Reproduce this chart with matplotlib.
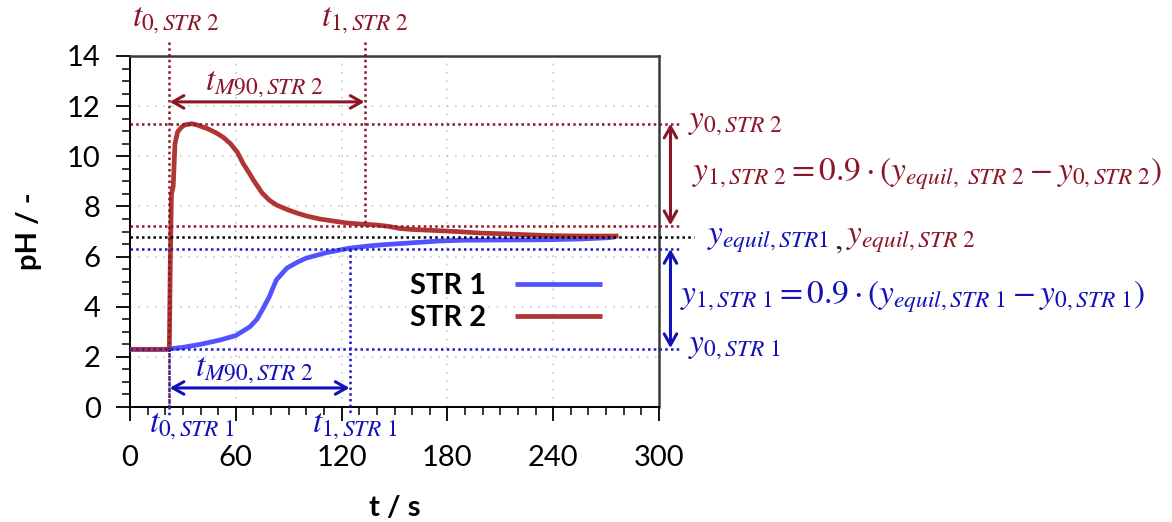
import matplotlib
matplotlib.use("Agg")
import matplotlib.pyplot as plt
from matplotlib.ticker import MultipleLocator
import logging
logging.getLogger("matplotlib.font_manager").setLevel(logging.ERROR)

# ---------------- data ----------------
t_str1 = [0, 20, 22.5, 30, 40, 51, 60, 68, 72, 75, 79, 83, 89, 95, 100, 111, 124, 135, 145,
          160, 175, 188, 210, 236, 255, 271, 275]
ph_str1 = [2.3, 2.3, 2.32, 2.38, 2.5, 2.67, 2.85, 3.2, 3.5, 3.87, 4.4, 5.07, 5.54, 5.78, 5.94,
           6.15, 6.33, 6.42, 6.48, 6.55, 6.62, 6.65, 6.66, 6.67, 6.7, 6.75, 6.78]

t_str2 = [0, 22.3, 22.8, 23.5, 24.5, 25.5, 27, 29, 31, 35, 38, 44, 49, 53, 57, 61, 64, 67, 70,
          75, 79, 83, 89, 94.5, 100, 107.5, 115, 123, 132, 140, 147, 153, 160, 170, 185, 198,
          215, 236, 255, 277]
ph_str2 = [2.3, 2.3, 5.5, 8.5, 8.8, 10.5, 10.97, 11.15, 11.25, 11.3, 11.25, 11.1, 10.93, 10.75,
           10.5, 10.15, 9.73, 9.4, 9.05, 8.53, 8.25, 8.06, 7.88, 7.74, 7.62, 7.5, 7.42, 7.34,
           7.29, 7.26, 7.2, 7.12, 7.08, 7.05, 7.0, 6.94, 6.9, 6.84, 6.82, 6.82]

series_labels = ["STR 1", "STR 2"]
x_ticks = [0, 60, 120, 180, 240, 300]
y_ticks = [0, 2, 4, 6, 8, 10, 12, 14]

t0_str2, t1_str2 = 22, 133
t0_str1, t1_str1 = 22, 124.5
y0_str2, y1_str2 = 11.3, 7.2
y_equil = 6.8
y1_str1, y0_str1 = 6.3, 2.3

# ---------------- style ----------------
RED = "#8C1628"
BLUE = "#1212B8"
BLUE_DOT = "#1A1ACC"
C1 = "#5252FF"
C2 = "#B03535"
NARROW = ["Lato", "DejaVu Sans"]

plt.rcParams["mathtext.fontset"] = "stix"
W, H = 1172, 522
fig = plt.figure(figsize=(W / 100, H / 100), dpi=100)
ax = fig.add_axes([130 / W, 1 - 407 / H, (659 - 130) / W, (407 - 56) / H])

def fx(px):
    return px / W

def fy(py):
    return 1 - py / H

ax.plot(t_str1, ph_str1, color=C1, lw=3.4, label=series_labels[0], solid_capstyle="butt", zorder=3)
ax.plot(t_str2, ph_str2, color=C2, lw=3.4, label=series_labels[1], solid_capstyle="butt", zorder=3)

ax.set_xlim(0, 300)
ax.set_ylim(0, 14)
ax.set_xticks(x_ticks)
ax.set_yticks(y_ticks)
ax.xaxis.set_minor_locator(MultipleLocator(10))
ax.yaxis.set_minor_locator(MultipleLocator(0.5))
ax.tick_params(which="major", direction="out", length=10, width=1.3, color="black",
               labelsize=21)
ax.tick_params(axis="x", which="major", pad=17)
ax.tick_params(axis="y", which="major", pad=11)
ax.tick_params(which="minor", direction="out", length=6, width=1.1, color="black")
for lab in ax.get_xticklabels() + ax.get_yticklabels():
    lab.set_fontfamily(NARROW)
ax.grid(True, which="major", ls=(0, (1, 4)), color="#c8c8c8", lw=1.2, zorder=0)
for s in ["left", "bottom"]:
    ax.spines[s].set_color("black")
    ax.spines[s].set_linewidth(1.4)
for s in ["top", "right"]:
    ax.spines[s].set_color("#3a3a3a")
    ax.spines[s].set_linewidth(1.8)

ax.set_xlabel("t / s", fontsize=21, fontweight="bold", fontfamily=NARROW, labelpad=18)
ax.set_ylabel("pH / -", fontsize=21, fontweight="bold", fontfamily=NARROW, labelpad=18)

leg = ax.legend(loc="center", bbox_to_anchor=(fx(506), fy(302)), bbox_transform=fig.transFigure,
                frameon=False, markerfirst=False, handlelength=3.0, handletextpad=1.0,
                labelspacing=0.2, prop={"family": NARROW, "weight": "bold", "size": 21})

# ---------------- dotted guide lines ----------------
dot = dict(ls=(0, (1, 1.3)), lw=1.8, clip_on=False, zorder=4)
ax.plot([0, 312], [y0_str2, y0_str2], color=RED, **dot)
ax.plot([0, 312], [y1_str2, y1_str2], color=RED, **dot)
ax.plot([0, 320], [y_equil, y_equil], color="black", **dot)
ax.plot([0, 312], [y1_str1, y1_str1], color=BLUE_DOT, **dot)
ax.plot([0, 312], [y0_str1, y0_str1], color=BLUE_DOT, **dot)

ax.plot([t0_str2, t0_str2], [14.55, 0], color=RED, **dot)
ax.plot([t1_str2, t1_str2], [14.55, y1_str2], color=RED, **dot)
ax.plot([t0_str1, t0_str1], [y0_str1, -0.3], color=BLUE_DOT, **dot)
ax.plot([t1_str1, t1_str1], [y1_str1, -0.3], color=BLUE_DOT, **dot)

# ---------------- arrows ----------------
def darrow(p1, p2, color):
    ax.annotate("", xy=p2, xytext=p1, xycoords="data", annotation_clip=False,
                arrowprops=dict(arrowstyle="<->,head_length=0.8,head_width=0.45", color=color,
                                lw=2.2, shrinkA=0, shrinkB=0), zorder=5)

darrow((t0_str2 + 0.5, 12.17), (t1_str2, 12.17), RED)
darrow((t0_str1 + 0.5, 0.76), (t1_str1, 0.76), BLUE)
darrow((306.5, y0_str2), (306.5, y1_str2 + 0.05), RED)
darrow((306.5, y1_str1), (306.5, y0_str1 + 0.05), BLUE)

# ---------------- math annotations ----------------
ms = 24
fig.text(fx(176), fy(20), r"$t_{0,STR\ 2}$", color=RED, fontsize=ms, ha="center", va="center")
fig.text(fx(365), fy(20), r"$t_{1,STR\ 2}$", color=RED, fontsize=ms, ha="center", va="center")
fig.text(fx(264), fy(84), r"$t_{M90,STR\ 2}$", color=RED, fontsize=ms, ha="center", va="center")
fig.text(fx(254), fy(370), r"$t_{M90,STR\ 2}$", color=BLUE, fontsize=ms, ha="center", va="center")
fig.text(fx(192), fy(425), r"$t_{0,STR\ 1}$", color=BLUE, fontsize=ms, ha="center", va="center")
fig.text(fx(355), fy(425), r"$t_{1,STR\ 1}$", color=BLUE, fontsize=ms, ha="center", va="center")

fig.text(fx(688), fy(122), r"$y_{0,STR\ 2}$", color=RED, fontsize=ms, ha="left", va="center")
fig.text(fx(692), fy(174), r"$y_{1,STR\ 2} = 0.9\cdot(y_{equil,\ STR\ 2} - y_{0,STR\ 2})$",
         color=RED, fontsize=ms, ha="left", va="center")
fig.text(fx(707), fy(238), r"$y_{equil,STR1}$", color=BLUE, fontsize=ms, ha="left", va="center")
fig.text(fx(834), fy(241), ",", color="#222222", fontsize=ms, ha="left", va="center",
         fontfamily="STIXGeneral")
fig.text(fx(846), fy(238), r"$y_{equil,STR\ 2}$", color=RED, fontsize=ms, ha="left", va="center")
fig.text(fx(680), fy(297), r"$y_{1,STR\ 1} = 0.9\cdot(y_{equil,STR\ 1} - y_{0,STR\ 1})$",
         color=BLUE, fontsize=ms, ha="left", va="center")
fig.text(fx(688), fy(346), r"$y_{0,STR\ 1}$", color=BLUE, fontsize=ms, ha="left", va="center")

fig.savefig("out.png", dpi=100)
